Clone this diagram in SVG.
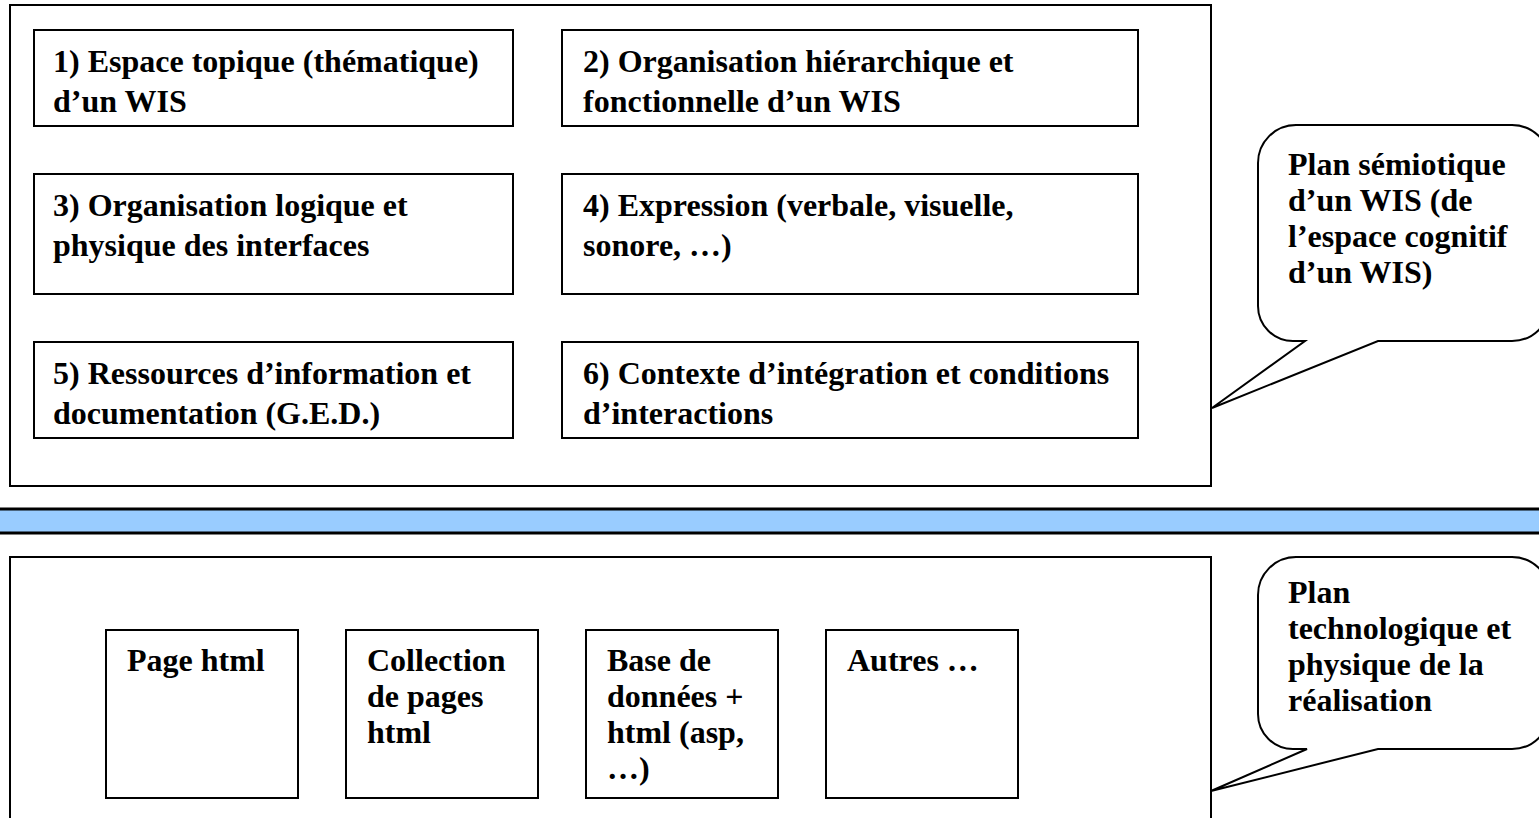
<svg xmlns="http://www.w3.org/2000/svg" width="1539" height="818" viewBox="0 0 1539 818">
<style>
.frame{fill:#fff;stroke:#000;stroke-width:2}
.box{fill:#fff;stroke:#000;stroke-width:2}
.bubble{fill:#fff;stroke:#000;stroke-width:2;stroke-linejoin:miter}
.t{font-family:"Liberation Serif","Times New Roman",serif;font-weight:bold;font-size:32px;fill:#000}
</style>
<rect width="1539" height="818" fill="#fff"/>
<g id="frame-top"><rect class="frame" x="10" y="5" width="1201" height="481"/></g>
<g id="band"><rect x="-5" y="509" width="1550" height="24" fill="#99CCFF" stroke="#000" stroke-width="3"/></g>
<g id="frame-bottom"><rect class="frame" x="10" y="557" width="1201" height="280"/></g>

<g id="n1"><rect class="box" x="34" y="30" width="479" height="96"/>
<text class="t" x="53" y="72">1) Espace topique (thématique)</text>
<text class="t" x="53" y="112">d’un WIS</text></g>
<g id="n2"><rect class="box" x="562" y="30" width="576" height="96"/>
<text class="t" x="583" y="72">2) Organisation hiérarchique et</text>
<text class="t" x="583" y="112">fonctionnelle d’un WIS</text></g>
<g id="n3"><rect class="box" x="34" y="174" width="479" height="120"/>
<text class="t" x="53" y="216">3) Organisation logique et</text>
<text class="t" x="53" y="256">physique des interfaces</text></g>
<g id="n4"><rect class="box" x="562" y="174" width="576" height="120"/>
<text class="t" x="583" y="216">4) Expression (verbale, visuelle,</text>
<text class="t" x="583" y="256">sonore, …)</text></g>
<g id="n5"><rect class="box" x="34" y="342" width="479" height="96"/>
<text class="t" x="53" y="384">5) Ressources d’information et</text>
<text class="t" x="53" y="424">documentation (G.E.D.)</text></g>
<g id="n6"><rect class="box" x="562" y="342" width="576" height="96"/>
<text class="t" x="583" y="384">6) Contexte d’intégration et conditions</text>
<text class="t" x="583" y="424">d’interactions</text></g>

<g id="callout1">
<path class="bubble" d="M1296,125 H1512 A38,38 0 0 1 1550,163 V303 A38,38 0 0 1 1512,341 H1378 L1212,408 L1305,341 H1293 A35,35 0 0 1 1258,306 V163 A38,38 0 0 1 1296,125 Z"/>
<text class="t" x="1288" y="175">Plan sémiotique</text>
<text class="t" x="1288" y="211">d’un WIS (de</text>
<text class="t" x="1288" y="247">l’espace cognitif</text>
<text class="t" x="1288" y="283">d’un WIS)</text>
</g>

<g id="m1"><rect class="box" x="106" y="630" width="192" height="168"/>
<text class="t" x="127" y="671">Page html</text></g>
<g id="m2"><rect class="box" x="346" y="630" width="192" height="168"/>
<text class="t" x="367" y="671">Collection</text>
<text class="t" x="367" y="707">de pages</text>
<text class="t" x="367" y="743">html</text></g>
<g id="m3"><rect class="box" x="586" y="630" width="192" height="168"/>
<text class="t" x="607" y="671">Base de</text>
<text class="t" x="607" y="707">données +</text>
<text class="t" x="607" y="743">html (asp,</text>
<text class="t" x="607" y="779">…)</text></g>
<g id="m4"><rect class="box" x="826" y="630" width="192" height="168"/>
<text class="t" x="847" y="671">Autres …</text></g>

<g id="callout2">
<path class="bubble" d="M1296,557 H1512 A38,38 0 0 1 1550,595 V711 A38,38 0 0 1 1512,749 H1378 L1211,791 L1307,749 H1293 A35,35 0 0 1 1258,714 V595 A38,38 0 0 1 1296,557 Z"/>
<text class="t" x="1288" y="603">Plan</text>
<text class="t" x="1288" y="639">technologique et</text>
<text class="t" x="1288" y="675">physique de la</text>
<text class="t" x="1288" y="711">réalisation</text>
</g>
<g id="connectors"></g>
</svg>
